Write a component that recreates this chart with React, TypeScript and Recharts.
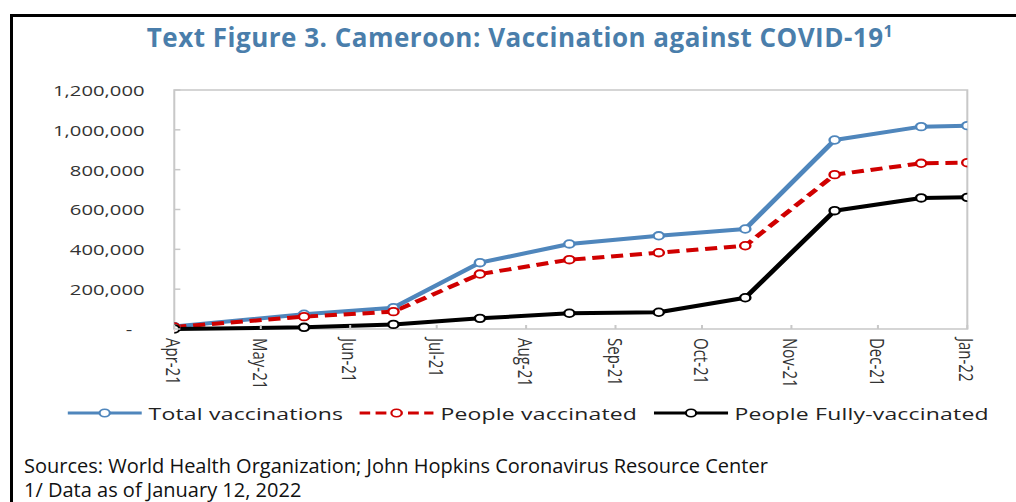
import { LineChart, Line, XAxis, YAxis, Legend, ReferenceArea } from "recharts";

// dates of the data points (first point sits on the Apr-21 axis edge)
const pointDates = [
  "2021-04-01",
  "2021-05-16",
  "2021-06-16",
  "2021-07-16",
  "2021-08-16",
  "2021-09-16",
  "2021-10-16",
  "2021-11-16",
  "2021-12-16",
  "2022-01-01",
];
const totalVaccinations = [12000, 74000, 107000, 333000, 427000, 468000, 502000, 949000, 1016000, 1021000];
const peopleVaccinated = [10000, 62000, 87000, 276000, 348000, 383000, 418000, 775000, 832000, 835000];
const peopleFullyVaccinated = [0, 8500, 23000, 53500, 79000, 84000, 157000, 594000, 658000, 661000];

const monthTicks = [
  "2021-04-01",
  "2021-05-01",
  "2021-06-01",
  "2021-07-01",
  "2021-08-01",
  "2021-09-01",
  "2021-10-01",
  "2021-11-01",
  "2021-12-01",
  "2022-01-01",
];
const monthLabels = ["Apr-21", "May-21", "Jun-21", "Jul-21", "Aug-21", "Sep-21", "Oct-21", "Nov-21", "Dec-21", "Jan-22"];
const yTicks = [0, 200000, 400000, 600000, 800000, 1000000, 1200000];

const toTime = (d: string) => Date.parse(d + "T00:00:00Z");

const data = pointDates.map((d, i) => ({
  t: toTime(d),
  total: totalVaccinations[i],
  vaccinated: peopleVaccinated[i],
  fully: peopleFullyVaccinated[i],
}));
const tickTimes = monthTicks.map(toTime);
const labelByTime = new Map(tickTimes.map((t, i) => [t, monthLabels[i]]));

const series = [
  { key: "total", name: "Total vaccinations", color: "#4F86BC", dash: undefined as string | undefined },
  { key: "vaccinated", name: "People vaccinated", color: "#D00000", dash: "9 5" },
  { key: "fully", name: "People Fully-vaccinated", color: "#000000", dash: undefined as string | undefined },
];

// the source picture is stretched sideways; the chart is drawn narrow and scaled
const STRETCH = 1.351;
const W = 752;
const H = 430;
const AXIS_GREY = "#c8c8c8";
const LABEL = "#333";
const FONT = "'Open Sans', sans-serif";

const fmt = (v: number) => String(v).replace(/\B(?=(\d{3})+(?!\d))/g, ",");

function YTick({ x, y, payload }: any) {
  const v = payload.value as number;
  return (
    <g>
      <line x1={x + 22} x2={x + 26.5} y1={y} y2={y} stroke={AXIS_GREY} strokeWidth={1.5} />
      <text
        x={v === 0 ? x - 9 : x}
        y={y}
        textAnchor="end"
        dominantBaseline="central"
        fontFamily={FONT}
        fontSize={15}
        fill={LABEL}
      >
        {v === 0 ? "-" : fmt(v)}
      </text>
    </g>
  );
}

function XTick({ x, y, payload }: any) {
  return (
    <g>
      <line x1={x} x2={x} y1={y - 9} y2={y - 13} stroke={AXIS_GREY} strokeWidth={1.5} />
      <text
        transform={`translate(${x},${y}) rotate(90)`}
        textAnchor="start"
        dominantBaseline="central"
        fontFamily={FONT}
        fontSize={15}
        fill={LABEL}
      >
        {labelByTime.get(payload.value)}
      </text>
    </g>
  );
}

function LegendContent() {
  return (
    <div
      style={{
        display: "flex",
        alignItems: "center",
        height: 34,
        paddingLeft: 50,
        fontFamily: FONT,
        fontSize: 17,
        letterSpacing: 0.15,
        color: "#222",
        whiteSpace: "nowrap",
      }}
    >
      {series.map((s) => (
        <div key={s.key} style={{ display: "flex", alignItems: "center", marginRight: 12 }}>
          <svg width={55} height={14}>
            <line x1={0} x2={55} y1={7} y2={7} stroke={s.color} strokeWidth={3} strokeDasharray={s.dash ? "8 4" : undefined} />
            <circle cx={27.5} cy={7} r={3.8} fill="#fff" stroke={s.color} strokeWidth={1.6} />
          </svg>
          <span style={{ marginLeft: 5 }}>{s.name}</span>
        </div>
      ))}
    </div>
  );
}

export default function App() {
  return (
    <div
      style={{
        position: "absolute",
        left: 0,
        top: 0,
        width: 1016,
        height: 502,
        overflow: "hidden",
        background: "#fff",
      }}
    >
      <div
        style={{
          position: "absolute",
          left: 10,
          top: 14,
          width: 1100,
          height: 600,
          borderTop: "3px solid #000",
          borderLeft: "3px solid #000",
        }}
      />
      <div
        style={{
          position: "absolute",
          left: 0,
          top: 20,
          width: 1040,
          textAlign: "center",
          fontFamily: FONT,
          fontWeight: 700,
          fontSize: 26,
          letterSpacing: 0.5,
          lineHeight: "35px",
          color: "#4A7EAB",
          whiteSpace: "nowrap",
        }}
      >
        Text Figure 3. Cameroon: Vaccination against COVID-19
        <span style={{ fontSize: 16, position: "relative", top: -10 }}>1</span>
      </div>

      <div
        style={{
          position: "absolute",
          left: 0,
          top: 0,
          width: W,
          height: H,
          transform: `scaleX(${STRETCH})`,
          transformOrigin: "0 0",
        }}
      >
        <LineChart width={W} height={H} data={data} margin={{ top: 90, right: 36, bottom: 0, left: 0 }}>
          <XAxis
            dataKey="t"
            type="number"
            domain={[tickTimes[0], tickTimes[tickTimes.length - 1]]}
            ticks={tickTimes}
            interval={0}
            tickSize={0}
            tickMargin={9}
            tickLine={false}
            axisLine={false}
            height={67}
            tick={(p: any) => <XTick {...p} />}
            allowDataOverflow
          />
          <YAxis
            domain={[0, 1200000]}
            ticks={yTicks}
            interval={0}
            width={129}
            tickSize={0}
            tickMargin={22}
            tickLine={false}
            axisLine={false}
            tick={(p: any) => <YTick {...p} />}
          />
          <ReferenceArea
            x1={tickTimes[0]}
            x2={tickTimes[tickTimes.length - 1]}
            y1={0}
            y2={1200000}
            fill="none"
            stroke={AXIS_GREY}
            strokeWidth={1.5}
            fillOpacity={0}
          />
          <Legend
            verticalAlign="bottom"
            align="left"
            wrapperStyle={{ height: 34, left: 0, width: W }}
            content={() => <LegendContent />}
          />
          {series.map((s) => (
            <Line
              key={s.key}
              type="linear"
              dataKey={s.key}
              name={s.name}
              stroke={s.color}
              strokeWidth={4}
              strokeDasharray={s.dash}
              strokeLinejoin="round"
              dot={{ r: 3.8, fill: "#fff", stroke: s.color, strokeWidth: 1.8, strokeDasharray: "" }}
              activeDot={false}
              isAnimationActive={false}
            />
          ))}
        </LineChart>
      </div>

      <div
        style={{
          position: "absolute",
          left: 24,
          top: 454,
          fontFamily: FONT,
          fontSize: 20,
          lineHeight: "24px",
          color: "#111",
          whiteSpace: "nowrap",
        }}
      >
        <div>Sources: World Health Organization; John Hopkins Coronavirus Resource Center</div>
        <div>1/ Data as of January 12, 2022</div>
      </div>
    </div>
  );
}
